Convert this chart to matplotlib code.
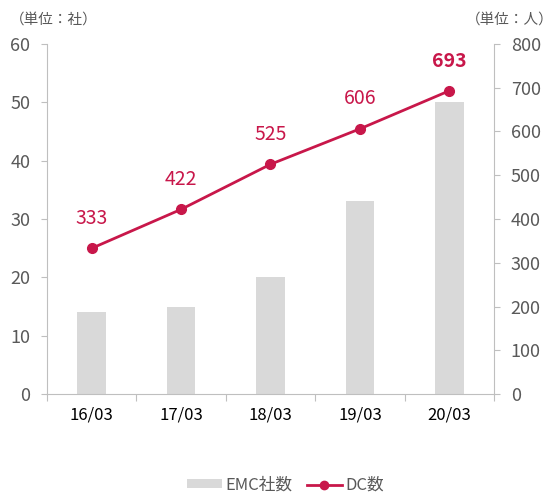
import matplotlib.pyplot as plt
from matplotlib.lines import Line2D
from matplotlib.patches import Patch

plt.rcParams['font.family'] = ['Noto Sans CJK JP', 'DejaVu Sans']

# ---------------------------
# Data
# ---------------------------
periods = ["16/03", "17/03", "18/03", "19/03", "20/03"]
emc_count = [14, 15, 20, 33, 50]
dc_count = [333, 422, 525, 606, 693]

BAR_COLOR = "#D9D9D9"
LINE_COLOR = "#C8174A"
AXIS_COLOR = "#BFBFBF"
TEXT_COLOR = "#595959"

fig = plt.figure(figsize=(5.56, 4.94), dpi=100)
ax = fig.add_axes([0.0845, 0.2024, 0.804, 0.7086])
ax2 = ax.twinx()

x = list(range(len(periods)))

# Bars on the left axis
ax.bar(x, emc_count, width=0.32, color=BAR_COLOR, zorder=1)
ax.set_xlim(-0.5, len(periods) - 0.5)
ax.set_ylim(0, 60)
ax.set_yticks(range(0, 61, 10))

# Line on the right axis
ax2.plot(x, dc_count, color=LINE_COLOR, lw=2, marker="o", ms=7, zorder=3)
ax2.set_ylim(0, 800)
ax2.set_yticks(range(0, 801, 100))

for i, v in enumerate(dc_count):
    last = i == len(dc_count) - 1
    ax2.annotate(str(v), (i, v), xytext=(0, 14), textcoords="offset points",
                 ha="center", va="bottom", color=LINE_COLOR, fontsize=14,
                 fontweight="bold" if last else "normal")

# Spines and ticks
for a in (ax, ax2):
    a.spines["top"].set_visible(False)
    for s in ("left", "right", "bottom"):
        a.spines[s].set_color(AXIS_COLOR)
    a.tick_params(colors=AXIS_COLOR, labelcolor=TEXT_COLOR, labelsize=13, length=4)

ax2.spines["left"].set_visible(False)
ax2.spines["bottom"].set_visible(False)
ax.spines["right"].set_visible(False)

# Category labels between boundary ticks
ax.set_xticks([i - 0.5 for i in range(len(periods) + 1)])
ax.set_xticklabels([])
ax.set_xticks(x, minor=True)
ax.set_xticklabels(periods, minor=True)
ax.tick_params(axis="x", which="minor", length=0, pad=9, labelsize=12)
ax.tick_params(axis="x", which="major", length=5)
ax.tick_params(axis="y", pad=8)
ax2.tick_params(axis="y", pad=8)

# Unit labels
fig.text(0.018, 0.96, "（単位：社）", fontsize=10.5, color=TEXT_COLOR, ha="left", va="center")
fig.text(0.995, 0.96, "（単位：人）", fontsize=10.5, color=TEXT_COLOR, ha="right", va="center")

# Legend
handles = [
    Patch(facecolor=BAR_COLOR, edgecolor="none"),
    Line2D([0], [0], color=LINE_COLOR, lw=2, marker="o", ms=6),
]
fig.legend(handles, ["EMC社数", "DC数"], loc="center", bbox_to_anchor=(0.513, 0.018),
           ncol=2, frameon=False, fontsize=12, labelcolor=TEXT_COLOR,
           handlelength=2.1, handleheight=0.4, handletextpad=0.2, columnspacing=0.9)

fig.savefig("out.png", dpi=100)
